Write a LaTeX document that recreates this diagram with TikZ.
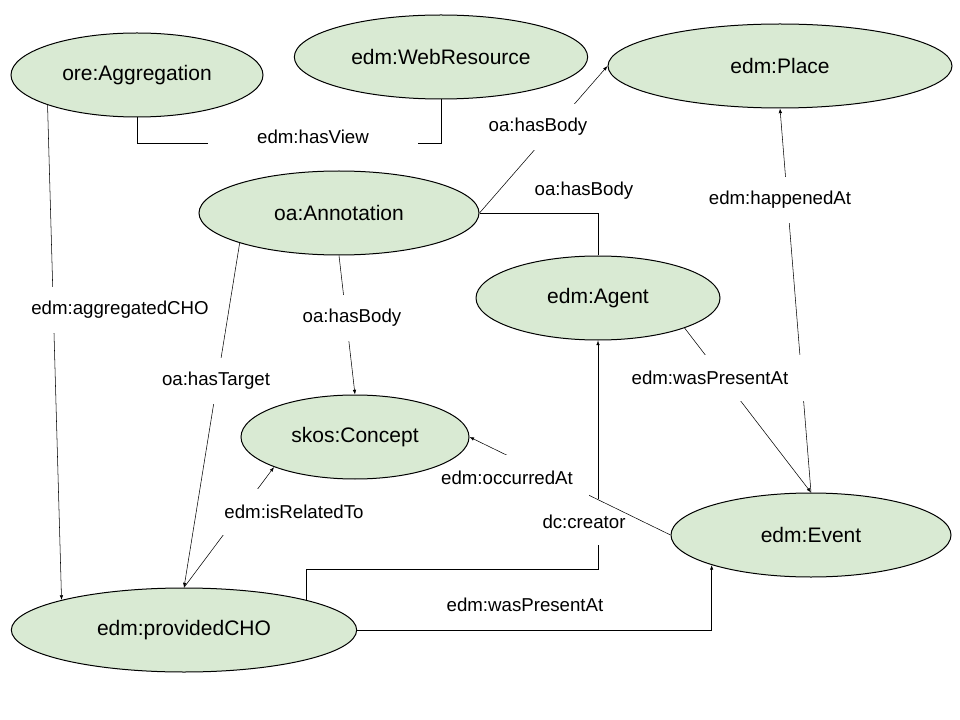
\documentclass[tikz,border=0pt]{standalone}
\usepackage{fontspec}
\setmainfont{Liberation Sans}
\usetikzlibrary{shapes.geometric,arrows.meta}
\definecolor{classgreen}{HTML}{D9EAD3}
\pgfdeclarelayer{links}
\pgfsetlayers{links,main}

\begin{document}
\begin{tikzpicture}[x=0.75pt,y=-0.75pt,line width=0.75pt,
  cls/.style={ellipse,draw=black,fill=classgreen,inner sep=0pt,minimum height=63pt,
    font=\fontsize{15.75}{18}\selectfont},
  prop/.style={fill=white,inner xsep=12pt,inner ysep=0pt,minimum height=34pt,
    font=\fontsize{14}{16}\selectfont},
  propside/.style={inner sep=2pt,font=\fontsize{14}{16}\selectfont},
  arr/.style={-{Latex[length=3.5pt,width=2.6pt]}}]
\useasboundingbox (0,0) rectangle (960,720);
% classes
\node[cls,minimum width=189pt] (agg) at (137,75) {ore:Aggregation};
\node[cls,minimum width=220pt] (web) at (441,57) {edm:WebResource};
\node[cls,minimum width=258pt] (place) at (780,66) {edm:Place};
\node[cls,minimum width=210pt] (annot) at (339,213) {oa:Annotation};
\node[cls,minimum width=183pt] (agent) at (598,298) {edm:Agent};
\node[cls,minimum width=171pt] (concept) at (355,437) {skos:Concept};
\node[cls,minimum width=210pt] (event) at (811,535) {edm:Event};
\node[cls,minimum width=259pt] (cho) at (184,630) {edm:providedCHO};
\begin{pgfonlayer}{links}
% properties
\draw (agg.south) -- ++(0,26) -| (web.south);
\draw[arr] (annot.east) -- (place.west);
\draw (annot.east) -| (agent.north);
\draw[arr] (event.north) -- (place.south);
\draw[arr] (agg.south west) -- (cho.north west);
\draw[arr] (annot.south west) -- (cho.north);
\draw[arr] (annot.south) -- (concept.north);
\draw[arr] (cho.north) -- (concept.south west);
\draw[arr] (cho.north east) -- ++(0,-31) -| (agent.south);
\draw[arr] (cho.east) -| (event.south west);
\draw[arr] (agent.south east) -- (event.north);
% labels
\node[prop,minimum width=157pt] (hasview) at (313,137) {edm:hasView};
\node[prop] (bodyplace) at (538,127) {oa:hasBody};
\node[propside] (bodyagent) at (584,191) {oa:hasBody};
\node[prop] (happened) at (780,200) {edm:happenedAt};
\node[prop] (aggregated) at (120,310) {edm:aggregatedCHO};
\node[prop] (target) at (216,381) {oa:hasTarget};
\node[prop] (bodyconcept) at (352,318) {oa:hasBody};
\node[prop] (related) at (294,512) {edm:isRelatedTo};
\node[prop] (creator) at (584,522) {dc:creator};
\node[propside] (presentcho) at (525,605) {edm:wasPresentAt};
\node[prop] (presentagent) at (710,378) {edm:wasPresentAt};
% drawn over the dc:creator label
\draw[arr] (event.west) -- (concept.east);
\node[prop] (occurred) at (507,478) {edm:occurredAt};
\end{pgfonlayer}
\end{tikzpicture}
\end{document}
